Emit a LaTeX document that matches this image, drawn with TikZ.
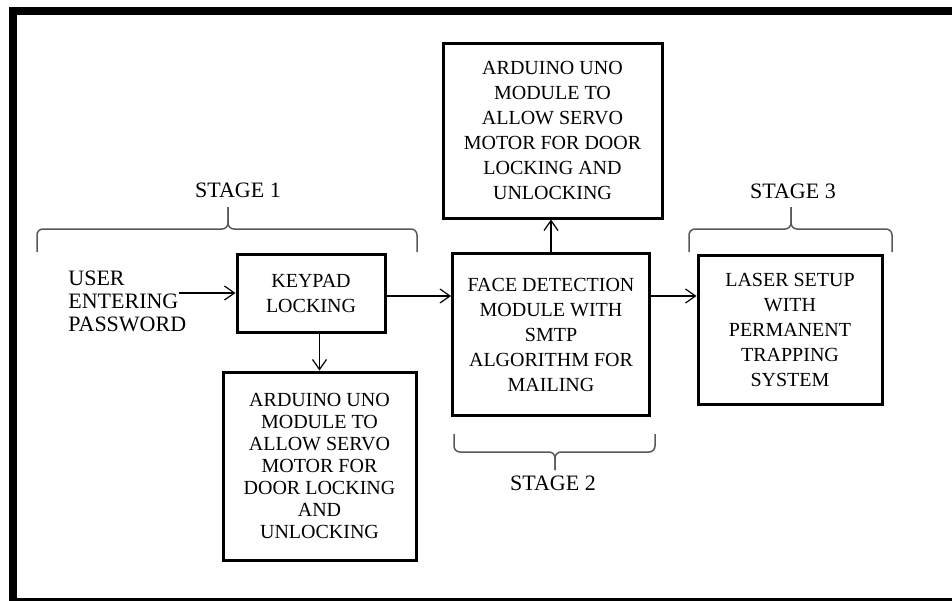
\documentclass[tikz,border=0pt]{standalone}
\usepackage{fontspec}
\setmainfont{Liberation Serif}
\usetikzlibrary{arrows.meta}

\begin{document}
\begin{tikzpicture}[
    x=0.5pt, y=-0.5pt,
    blk/.style={rectangle, draw, line width=1.5pt, inner sep=0pt,
                align=center, font=\fontsize{10}{12.5}\selectfont},
    lbl/.style={inner sep=0pt, font=\fontsize{11}{12.5}\selectfont},
    arr/.style={-{Straight Barb[length=5pt,width=7pt]}, line width=0.6pt},
    brc/.style={draw, line width=0.75pt, gray!70!black, rounded corners=3pt}
]
\useasboundingbox (0,0) rectangle (952,600);
\clip (0,0) rectangle (952,600);
\draw[line width=4pt] (12.5,11) rectangle (990,602);

\node[blk, minimum width=74pt, minimum height=39pt] (keypad) at (311,293) {KEYPAD\\LOCKING};
\node[blk, minimum width=98.5pt, minimum height=81pt] (face) at (551,334.5)
    {FACE DETECTION\\MODULE WITH\\SMTP\\ALGORITHM FOR\\MAILING};
\node[blk, minimum width=109.5pt, minimum height=87.5pt] (topard) at (552.5,130.5)
    {ARDUINO UNO\\MODULE TO\\ALLOW SERVO\\MOTOR FOR DOOR\\LOCKING AND\\UNLOCKING};
\node[blk, minimum width=92pt, minimum height=74.5pt] (laser) at (790,329.5)
    {LASER SETUP\\WITH\\PERMANENT\\TRAPPING\\SYSTEM};
\node[blk, minimum width=96.5pt, minimum height=94pt,
      font=\fontsize{10}{11}\selectfont] (botard) at (319.5,466)
    {ARDUINO UNO\\MODULE TO\\ALLOW SERVO\\MOTOR FOR\\DOOR LOCKING\\AND\\UNLOCKING};
\node[lbl, anchor=west, align=left, font=\fontsize{11}{11.5}\selectfont] (user) at (68,301)
    {USER\\ENTERING\\PASSWORD};

\node[lbl] (st1) at (238,190) {STAGE 1};
\node[lbl] (st2) at (553,483) {STAGE 2};
\node[lbl] (st3) at (793,191) {STAGE 3};

% braces
\path[brc] (37,252) -- (37,229) -- (228,229) -- (228,207);
\path[brc] (417,252) -- (417,229) -- (228,229) -- (228,207);
\path[brc] (689,252) -- (689,229) -- (791,229) -- (791,207);
\path[brc] (892,252) -- (892,229) -- (791,229) -- (791,207);
\path[brc] (454,434) -- (454,452) -- (555,452) -- (555,470);
\path[brc] (655,434) -- (655,452) -- (555,452) -- (555,470);

% arrows
\draw[arr] ([xshift=-4pt]user.east |- keypad.west) -- (keypad.west);
\draw[arr] ([yshift=-1.5pt]keypad.east) -- ([yshift=-1.5pt]keypad.east -| face.west);
\draw[arr] ([yshift=-1.5pt]face.east |- keypad.east) -- ([yshift=-1.5pt]laser.west |- keypad.east);
\draw[arr] (botard.north |- keypad.south) -- (botard.north);
\draw[arr] (face.north) -- (face.north |- topard.south);
\end{tikzpicture}
\end{document}
